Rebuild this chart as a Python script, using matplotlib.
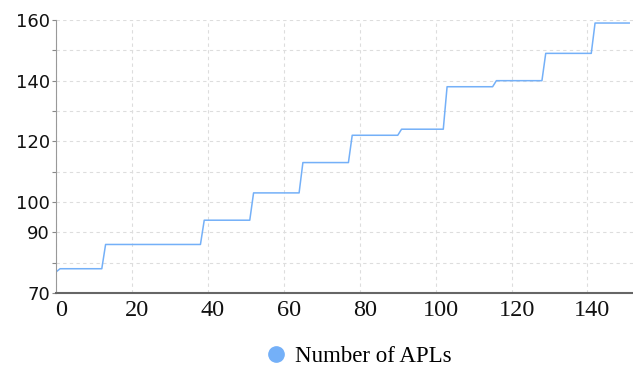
import matplotlib
matplotlib.use('Agg')
import matplotlib.pyplot as plt
from matplotlib.transforms import ScaledTranslation

# step vertices of the APL count curve
x_vals = [0, 1, 12, 13, 38, 39, 51, 52, 64, 65, 77, 78, 90, 91,
          102, 103, 115, 116, 128, 129, 141, 142, 151]
apls = [77, 78, 78, 86, 86, 94, 94, 103, 103, 113, 113, 122, 122, 124,
        124, 138, 138, 140, 140, 149, 149, 159, 159]

y_ticks = [70, 80, 90, 100, 110, 120, 130, 140, 150, 160]
y_labels = ['70', '', '90', '100', '', '120', '', '140', '', '160']
x_ticks = [0, 20, 40, 60, 80, 100, 120, 140]

blue = '#74b0f8'

fig = plt.figure(figsize=(6.33, 3.68), dpi=100)
ax = fig.add_axes([55.5 / 633, 1 - 293 / 368, 1 - 55.5 / 633, 273 / 368])

ax.plot(x_vals, apls, color=blue, lw=1.1, label='Number of APLs')

ax.set_xlim(-0.2, 152)
ax.set_ylim(70, 160)
ax.set_yticks(y_ticks)
ax.set_yticklabels(y_labels, fontsize=13, family='DejaVu Sans', color='#111111')
ax.set_xticks(x_ticks)
ax.set_xticklabels([str(t) for t in x_ticks], fontsize=17.5, family='Liberation Serif', color='#111111')

ax.tick_params(axis='y', length=3, width=0.8, color='#888888', pad=1)
ax.tick_params(axis='x', length=0, pad=5)
shift = ScaledTranslation(5 / 100, 0, fig.dpi_scale_trans)
for lab in ax.get_xticklabels():
    lab.set_transform(lab.get_transform() + shift)

ax.grid(True, color='#dddddd', lw=0.8, linestyle=(0, (3, 3)))
ax.set_axisbelow(True)
for s in ['top', 'right']:
    ax.spines[s].set_visible(False)
ax.spines['left'].set_color('#999999')
ax.spines['left'].set_linewidth(0.8)
ax.spines['bottom'].set_color('#666666')
ax.spines['bottom'].set_linewidth(1.5)

h = plt.Line2D([], [], marker='o', color=blue, ls='', markersize=11)
fig.legend([h], ['Number of APLs'], loc='center', bbox_to_anchor=(358 / 633, 1 - 356 / 368),
           frameon=False, prop={'family': 'Liberation Serif', 'size': 16.5},
           handletextpad=0.3, handlelength=1.0)

fig.savefig('out.png', dpi=100)
